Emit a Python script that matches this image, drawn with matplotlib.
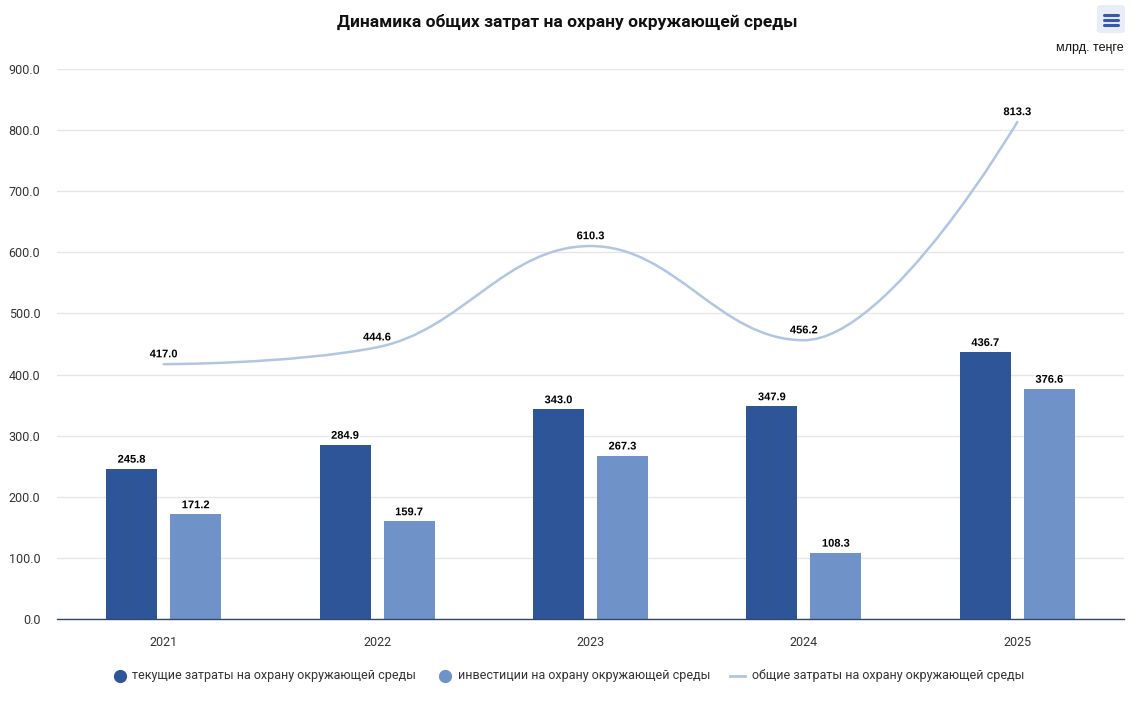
import matplotlib
matplotlib.use("Agg")
import matplotlib.pyplot as plt
from matplotlib.path import Path
from matplotlib.patches import PathPatch, FancyBboxPatch
import matplotlib.patheffects as pe
import numpy as np

years = ["2021", "2022", "2023", "2024", "2025"]
current_costs = [245.8, 284.9, 343.0, 347.9, 436.7]
investments = [171.2, 159.7, 267.3, 108.3, 376.6]
total_costs = [417.0, 444.6, 610.3, 456.2, 813.3]
y_ticks = [0, 100, 200, 300, 400, 500, 600, 700, 800, 900]

title = "Динамика общих затрат на охрану окружающей среды"
unit = "млрд. теңге"
names = ["текущие затраты на охрану окружающей среды",
         "инвестиции на охрану окружающей среды",
         "общие затраты на охрану окружающей среды"]

c_dark = "#2e5597"
c_light = "#6f93c8"
c_line = "#b0c6e2"

W, H = 1139, 703
fig = plt.figure(figsize=(W / 100, H / 100), dpi=100)
L, R, T, B = 57, 1124, 69, 619
ax = fig.add_axes([L / W, 1 - B / H, (R - L) / W, (B - T) / H])

x = np.arange(len(years))
bw = 51 / 213.4
off = 32 / 213.4
ax.bar(x - off, current_costs, width=bw, color=c_dark, zorder=2)
ax.bar(x + off, investments, width=bw, color=c_light, zorder=2)

# Highcharts-like spline
def spline_path(xs, ys, smoothing=1.5):
    n = len(xs)
    lc = [None] * n
    rc = [None] * n
    denom = smoothing + 1
    for i in range(1, n - 1):
        px, py = xs[i], ys[i]
        lx, ly = xs[i - 1], ys[i - 1]
        nx, ny = xs[i + 1], ys[i + 1]
        lcx = (smoothing * px + lx) / denom
        lcy = (smoothing * py + ly) / denom
        rcx = (smoothing * px + nx) / denom
        rcy = (smoothing * py + ny) / denom
        if rcx != lcx:
            corr = ((rcy - lcy) * (rcx - px)) / (rcx - lcx) + py - rcy
            lcy += corr
            rcy += corr
        if lcy > ly and lcy > py:
            lcy = max(ly, py); rcy = 2 * py - lcy
        elif lcy < ly and lcy < py:
            lcy = min(ly, py); rcy = 2 * py - lcy
        if rcy > ny and rcy > py:
            rcy = max(ny, py); lcy = 2 * py - rcy
        elif rcy < ny and rcy < py:
            rcy = min(ny, py); lcy = 2 * py - rcy
        lc[i] = (lcx, lcy)
        rc[i] = (rcx, rcy)
    verts = [(xs[0], ys[0])]
    codes = [Path.MOVETO]
    for i in range(1, n):
        c1 = rc[i - 1] if rc[i - 1] is not None else (xs[i - 1], ys[i - 1])
        c2 = lc[i] if lc[i] is not None else (xs[i], ys[i])
        verts += [c1, c2, (xs[i], ys[i])]
        codes += [Path.CURVE4] * 3
    return Path(verts, codes)

ax.add_patch(PathPatch(spline_path(list(x.astype(float)), total_costs),
                       facecolor="none", edgecolor=c_line, lw=1.8, zorder=3,
                       capstyle="round", joinstyle="round"))

outline = [pe.withStroke(linewidth=2.5, foreground="white")]
lab_kw = dict(ha="center", va="bottom", fontsize=8, fontweight="bold",
              family="Liberation Sans", color="black", zorder=5,
              path_effects=outline)
for i in range(len(years)):
    ax.annotate(f"{current_costs[i]:.1f}", (x[i] - off, current_costs[i]),
                xytext=(0, 3), textcoords="offset points", **lab_kw)
    ax.annotate(f"{investments[i]:.1f}", (x[i] + off, investments[i]),
                xytext=(0, 3), textcoords="offset points", **lab_kw)
    ax.annotate(f"{total_costs[i]:.1f}", (x[i], total_costs[i]),
                xytext=(0, 3.5), textcoords="offset points", **lab_kw)

ax.set_xlim(-0.5, len(years) - 0.5)
ax.set_ylim(0, 900)
ax.set_yticks(y_ticks)
ax.set_yticklabels([f"{v:.1f}" for v in y_ticks])
ax.set_xticks(x)
ax.set_xticklabels(years)
ax.tick_params(axis="both", length=0, labelsize=9, labelcolor="#333333")
ax.tick_params(axis="x", pad=12)
ax.tick_params(axis="y", pad=12)
for lbl in ax.get_xticklabels() + ax.get_yticklabels():
    lbl.set_family("Roboto")
ax.grid(axis="y", color="#e6e6e6", lw=1, zorder=0)
ax.set_axisbelow(True)
for s in ["top", "right", "left"]:
    ax.spines[s].set_visible(False)
ax.spines["bottom"].set_color("#34466e")
ax.spines["bottom"].set_linewidth(1)
ax.spines["bottom"].set_zorder(4)

fig.text(567 / W, 1 - 22 / H, title, ha="center", va="center",
         fontsize=12.5, fontweight="bold", family="Roboto", color="#111111")
fig.text(1124 / W, 1 - 48 / H, unit, ha="right", va="center",
         fontsize=9, family="Liberation Sans", color="#111111")

# menu button
btn = FancyBboxPatch((1097 / W, 1 - 33 / H), 28 / W, 28 / H,
                     boxstyle="round,pad=0,rounding_size=0.004",
                     transform=fig.transFigure, facecolor="#e9edf8",
                     edgecolor="none")
fig.patches.append(btn)
for yy in (15, 20, 25):
    fig.add_artist(plt.Line2D([1104 / W, 1118 / W], [1 - yy / H, 1 - yy / H],
                              transform=fig.transFigure, color="#3a58a8",
                              lw=2.2, solid_capstyle="round"))

# legend
ly = 1 - 676 / H
leg_kw = dict(va="center", ha="left", fontsize=9, family="Roboto", color="#333333")
fig.add_artist(plt.Line2D([120 / W], [ly], marker="o", ms=8.5, color=c_dark,
                          transform=fig.transFigure, lw=0))
fig.text(132 / W, ly, names[0], **leg_kw)
fig.add_artist(plt.Line2D([445 / W], [ly], marker="o", ms=8.5, color=c_light,
                          transform=fig.transFigure, lw=0))
fig.text(458 / W, ly, names[1], **leg_kw)
fig.add_artist(plt.Line2D([730 / W, 745 / W], [ly, ly], color=c_line, lw=2,
                          transform=fig.transFigure))
fig.text(752 / W, ly, names[2], **leg_kw)

fig.savefig("out.png", dpi=100)
